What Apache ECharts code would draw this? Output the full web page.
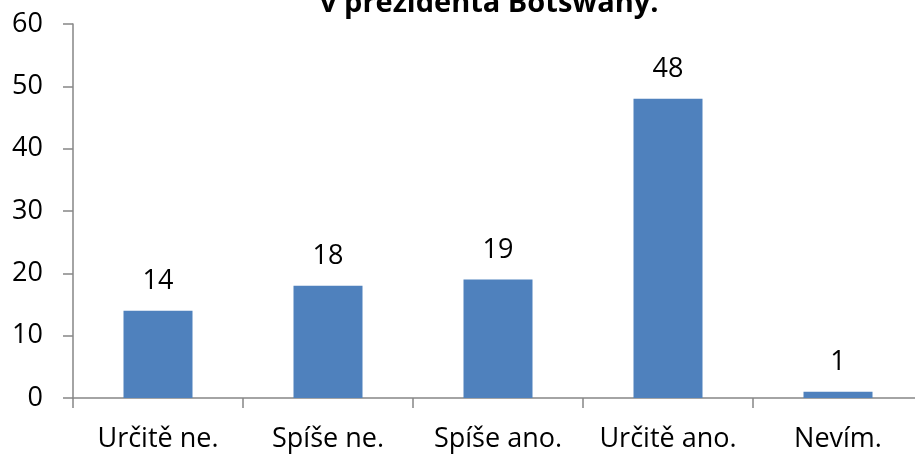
<!DOCTYPE html>
<html>
<head>
<meta charset="utf-8">
<script src="https://cdn.jsdelivr.net/npm/echarts@6/dist/echarts.min.js"></script>
<style>
    html, body { margin: 0; padding: 0; background: #fff; }
    #chart { width: 915px; height: 455px; }
</style>
</head>
<body>
<div id="chart"></div>
<script>
    const categories = ['Určitě ne.', 'Spíše ne.', 'Spíše ano.', 'Určitě ano.', 'Nevím.'];
    const values = [14, 18, 19, 48, 1];
    const titleText = 'v prezidenta Botswany.';

    let myChart = echarts.init(document.getElementById('chart'));

    let option = {
        animation: false,
        textStyle: { fontFamily: 'Open Sans' },
        graphic: [{
            type: 'text',
            left: 320,
            top: -11,
            style: {
                text: titleText,
                font: 'bold 29px "Open Sans"',
                fill: '#000'
            }
        }],
        // plot runs a little past the right edge, like the reference
        grid: { left: 73, width: 850, top: 24, bottom: 57, outerBoundsMode: 'none' },
        xAxis: {
            type: 'category',
            data: categories,
            axisLine: { lineStyle: { color: '#868686', width: 1.5 } },
            axisTick: { show: true, interval: 0, length: 10, lineStyle: { color: '#868686', width: 1.5 } },
            axisLabel: { color: '#000', fontSize: 27, margin: 28, interval: 0 }
        },
        yAxis: {
            type: 'value',
            min: 0,
            max: 60,
            interval: 10,
            splitLine: { show: false },
            axisLine: { show: true, lineStyle: { color: '#868686', width: 1.5 } },
            axisTick: { show: true, length: 10, lineStyle: { color: '#868686', width: 1.5 } },
            axisLabel: { color: '#000', fontSize: 27, margin: 30 }
        },
        series: [{
            type: 'bar',
            data: values,
            barWidth: 69,
            itemStyle: { color: '#4F81BD' },
            label: {
                show: true,
                position: 'top',
                distance: 16,
                color: '#000',
                fontSize: 27
            }
        }]
    };

    myChart.setOption(option);
</script>
</body>
</html>
